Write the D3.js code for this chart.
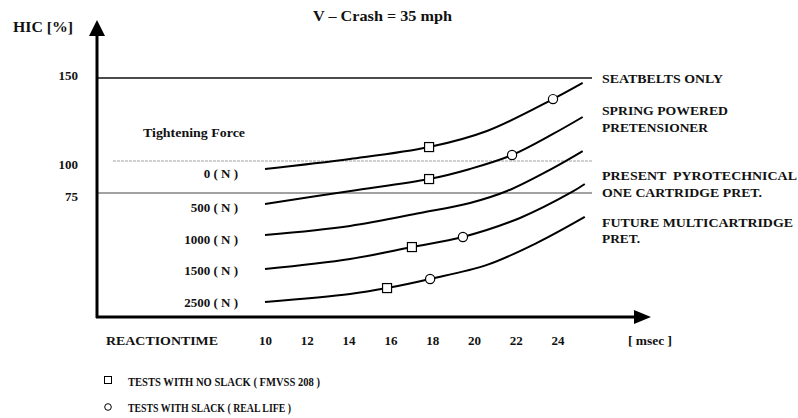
<!DOCTYPE html>
<html>
<head>
<meta charset="utf-8">
<script src="https://cdn.jsdelivr.net/npm/d3@7"></script>
<style>
  body { margin: 0; background: #fff; }
  svg text { font-family: "Liberation Serif", "Times New Roman", serif; font-weight: bold; fill: #111; white-space: pre; }
</style>
</head>
<body>
<svg id="chart" width="798" height="418"></svg>
<script>
// reaction time ticks (msec) and HIC reference levels (%)
var xTicks = [10, 12, 14, 16, 18, 20, 22, 24];
var yTicks = [150, 100, 75];

// tightening force curves: [reaction time, HIC %]
var forceLabels = ["0 ( N )", "500 ( N )", "1000 ( N )", "1500 ( N )", "2500 ( N )"];
var force0    = [[10, 93.8], [14.07, 101.2], [17.85, 108.4], [20.62, 118.1], [23.78, 137.3], [25.2, 147]];
var force500  = [[10, 68.4], [14.1, 76.6], [17.85, 85.9], [19.81, 93.8], [21.82, 103.6], [23.78, 116.3], [25.2, 126.5]];
var force1000 = [[10, 49.6], [14.07, 55.1], [17.42, 62.9], [19.81, 69], [21.58, 76.6], [23.78, 94.5], [25.2, 106]];
var force1500 = [[10, 29], [14.07, 35.1], [17.03, 42.3], [19.47, 48.4], [22.2, 59.9], [24.69, 75.8], [25.3, 82]];
var force2500 = [[10, 9.1], [14.07, 13.9], [15.84, 17.5], [17.9, 23], [20.62, 31.5], [23.01, 44.8], [25.3, 60.5]];

// test points on the curves
var noSlack   = [[17.85, 108.4], [17.85, 85.9], [17.03, 42.3], [15.84, 17.5]];
var withSlack = [[23.78, 137.3], [21.82, 103.6], [19.47, 48.4], [17.9, 23]];

var levelLabels = [
  ["SEATBELTS ONLY"],
  ["SPRING POWERED", "PRETENSIONER"],
  ["PRESENT  PYROTECHNICAL", "ONE CARTRIDGE PRET."],
  ["FUTURE MULTICARTRIDGE", "PRET."]
];
var legendLabels = ["TESTS WITH NO SLACK ( FMVSS 208 )", "TESTS WITH SLACK ( REAL LIFE )"];

var svg = d3.select("#chart");

var x = d3.scaleLinear().domain([10, 24]).range([265, 557.6]);
// hand drawn original: the axis is not evenly spaced
var y = d3.scaleLinear().domain([0, 75, 100, 150]).range([317, 193, 161, 78]);

var axisX0 = 97, axisY0 = 317;

// reference lines
svg.append("line")
  .attr("x1", axisX0).attr("x2", 592)
  .attr("y1", y(150)).attr("y2", y(150))
  .attr("stroke", "#111").attr("stroke-width", 1.6);
svg.append("line")
  .attr("x1", 113).attr("x2", 592)
  .attr("y1", y(100)).attr("y2", y(100))
  .attr("stroke", "#888").attr("stroke-width", 0.8)
  .attr("stroke-dasharray", "3,1");
svg.append("line")
  .attr("x1", axisX0).attr("x2", 592)
  .attr("y1", y(75)).attr("y2", y(75))
  .attr("stroke", "#444").attr("stroke-width", 1);

// axes with arrows
svg.append("line")
  .attr("x1", axisX0).attr("x2", axisX0)
  .attr("y1", axisY0 + 1).attr("y2", 34)
  .attr("stroke", "#000").attr("stroke-width", 3);
svg.append("path")
  .attr("d", "M" + (axisX0 - 8) + ",36 L" + axisX0 + ",20 L" + (axisX0 + 8) + ",36 Z")
  .attr("fill", "#000");
svg.append("line")
  .attr("x1", axisX0 - 1).attr("x2", 636)
  .attr("y1", axisY0).attr("y2", axisY0)
  .attr("stroke", "#000").attr("stroke-width", 3);
svg.append("path")
  .attr("d", "M634," + (axisY0 - 7) + " L651," + axisY0 + " L634," + (axisY0 + 7) + " Z")
  .attr("fill", "#000");

// tick labels
var gx = svg.append("g")
  .attr("transform", "translate(0," + axisY0 + ")")
  .call(d3.axisBottom(x).tickValues(xTicks).tickSize(0));
gx.select(".domain").remove();
gx.selectAll("text")
  .attr("y", 28).attr("dy", 0)
  .style("font-size", "13px")
  .style("font-family", null);

var gy = svg.append("g")
  .attr("transform", "translate(78,0)")
  .call(d3.axisLeft(y).tickValues(yTicks).tickSize(0).tickPadding(0));
gy.select(".domain").remove();
gy.selectAll("text")
  .attr("dy", function(d){ return d === 150 ? "0.15em" : "0.6em"; })
  .style("font-size", "13px")
  .style("font-family", null);

// curves
var line = d3.line()
  .x(function(d){ return x(d[0]); })
  .y(function(d){ return y(d[1]); })
  .curve(d3.curveCatmullRom.alpha(0.5));

[force0, force500, force1000, force1500, force2500].forEach(function(s){
  svg.append("path")
    .attr("d", line(s))
    .attr("fill", "none")
    .attr("stroke", "#000")
    .attr("stroke-width", 2);
});

svg.selectAll(".sq").data(noSlack).enter().append("rect")
  .attr("class", "sq")
  .attr("x", function(d){ return x(d[0]) - 4.5; })
  .attr("y", function(d){ return y(d[1]) - 4.5; })
  .attr("width", 9).attr("height", 9)
  .attr("fill", "#fff").attr("stroke", "#000").attr("stroke-width", 1.2);

svg.selectAll(".ci").data(withSlack).enter().append("circle")
  .attr("class", "ci")
  .attr("cx", function(d){ return x(d[0]); })
  .attr("cy", function(d){ return y(d[1]); })
  .attr("r", 4.6)
  .attr("fill", "#fff").attr("stroke", "#000").attr("stroke-width", 1.2);

// texts
function txt(s, tx, ty, size, w, anchor){
  var t = svg.append("text")
    .attr("x", tx).attr("y", ty)
    .style("font-size", size + "px")
    .attr("text-anchor", anchor || "start")
    .text(s);
  if (w) t.attr("textLength", w).attr("lengthAdjust", "spacingAndGlyphs");
  return t;
}

txt("HIC [%]", 13, 32, 14, 60);
txt("V \u2013 Crash = 35 mph", 313, 21, 14, 139);
txt("Tightening Force", 143, 137, 13, 102);

var forceY = [178, 212, 244, 275, 307];
forceLabels.forEach(function(l, i){
  txt(l, 238, forceY[i], 13, null, "end");
});

var levelY = [[83], [115, 132], [180, 197], [227, 243]];
var levelW = [[121], [126, 106], [195, 160], [191, 38]];
levelLabels.forEach(function(lines, i){
  lines.forEach(function(l, j){
    txt(l, 602, levelY[i][j], 13.5, levelW[i][j]);
  });
});

txt("REACTIONTIME", 106, 345, 13, 112);
txt("[ msec ]", 628, 345, 13, 44);

// legend
svg.append("rect")
  .attr("x", 104.5).attr("y", 376.5).attr("width", 7).attr("height", 7)
  .attr("fill", "#fff").attr("stroke", "#000").attr("stroke-width", 1);
svg.append("circle")
  .attr("cx", 108).attr("cy", 407).attr("r", 3.3)
  .attr("fill", "#fff").attr("stroke", "#000").attr("stroke-width", 1);
txt(legendLabels[0], 128, 386, 13, 192);
txt(legendLabels[1], 128, 412, 13, 163);
</script>
</body>
</html>
